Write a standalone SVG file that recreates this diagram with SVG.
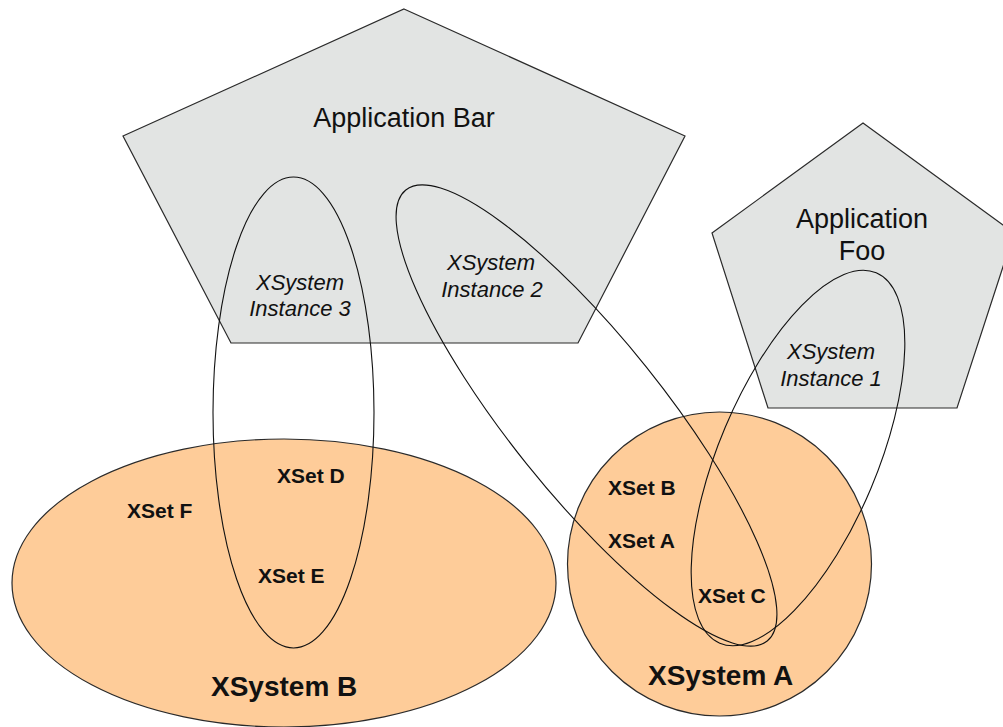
<svg xmlns="http://www.w3.org/2000/svg" width="1003" height="727" viewBox="0 0 1003 727">
<style>
.app{fill:#e2e4e3;stroke:#2a2a2a;stroke-width:1.2}
.sys{fill:#fecc99;stroke:#2a2a2a;stroke-width:1.2}
.inst{fill:none;stroke:#111;stroke-width:1.1}
.t-app{font-family:"Liberation Sans",Arial,sans-serif;font-size:27px;fill:#111;text-anchor:middle}
.t-inst{font-family:"Liberation Sans",Arial,sans-serif;font-size:22px;font-style:italic;fill:#111;text-anchor:middle}
.t-set{font-family:"Liberation Sans",Arial,sans-serif;font-size:21px;font-weight:bold;fill:#111}
.t-sys{font-family:"Liberation Sans",Arial,sans-serif;font-size:28px;font-weight:bold;fill:#111}
</style>
<rect width="1003" height="727" fill="#ffffff"/>
<g id="app-bar">
<polygon class="app" points="404,9 685,136 578,343 231,343 123,136"/>
</g>
<g id="app-foo">
<polygon class="app" points="863,123 1014,233 957,408 768,408 712,233"/>
</g>
<g id="xsystem-b">
<ellipse class="sys" cx="284" cy="583" rx="272" ry="144"/>
</g>
<g id="xsystem-a">
<circle class="sys" cx="719.5" cy="564" r="152"/>
</g>
<g id="instances">
<g id="instance-3"><ellipse class="inst" cx="293.5" cy="412.5" rx="80.5" ry="235.5"/></g>
<g id="instance-2"><ellipse class="inst" cx="586.5" cy="415.5" rx="289" ry="77" transform="rotate(51.3 586.5 415.5)"/></g>
<g id="instance-1"><ellipse class="inst" cx="798" cy="458" rx="201" ry="79" transform="rotate(-67.1 798 458)"/></g>
</g>
<g id="connectors"></g>
<g id="labels">
<text class="t-app" x="404" y="127">Application Bar</text>
<text class="t-app" x="862" y="228">Application</text>
<text class="t-app" x="862" y="260">Foo</text>
<text class="t-inst" x="300" y="290">XSystem</text>
<text class="t-inst" x="300" y="316">Instance 3</text>
<text class="t-inst" x="491" y="270">XSystem</text>
<text class="t-inst" x="492" y="297">Instance 2</text>
<text class="t-inst" x="831" y="359">XSystem</text>
<text class="t-inst" x="831" y="386">Instance 1</text>
<text class="t-set" x="277" y="483">XSet D</text>
<text class="t-set" x="127" y="518">XSet F</text>
<text class="t-set" x="258" y="583">XSet E</text>
<text class="t-sys" x="211" y="696">XSystem B</text>
<text class="t-set" x="608" y="495">XSet B</text>
<text class="t-set" x="608" y="548">XSet A</text>
<text class="t-set" x="698" y="603">XSet C</text>
<text class="t-sys" x="648" y="685">XSystem A</text>
</g>
</svg>
